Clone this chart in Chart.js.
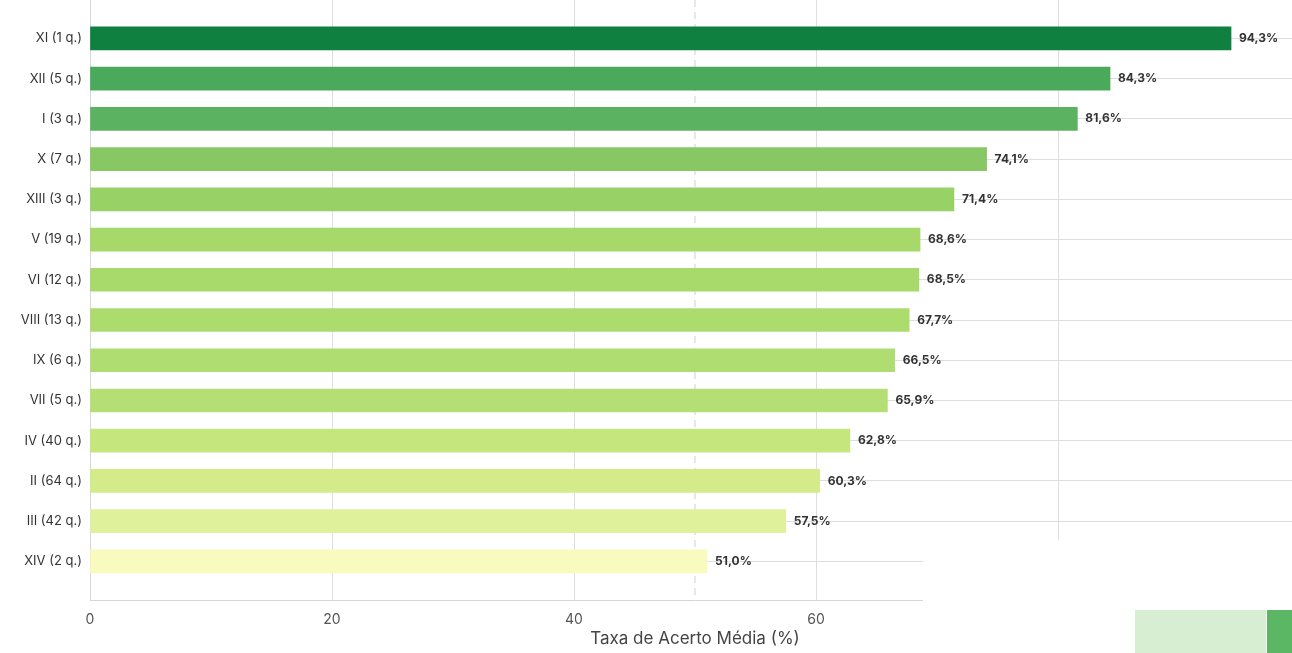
<!DOCTYPE html>
<html>
<head>
<meta charset="utf-8">
<script src="https://cdn.jsdelivr.net/npm/chart.js@4/dist/chart.umd.min.js"></script>
<style>
  html, body { margin: 0; padding: 0; background: #fff; overflow: hidden; }
  #chart { display: block; }
</style>
</head>
<body>
<canvas id="chart" width="1300" height="653"></canvas>
<script>
// categorias (de cima para baixo)
var categorias = ['XI (1 q.)', 'XII (5 q.)', 'I (3 q.)', 'X (7 q.)', 'XIII (3 q.)', 'V (19 q.)', 'VI (12 q.)',
  'VIII (13 q.)', 'IX (6 q.)', 'VII (5 q.)', 'IV (40 q.)', 'II (64 q.)', 'III (42 q.)', 'XIV (2 q.)']
var taxas = [94.3, 84.3, 81.6, 74.1, 71.4, 68.6, 68.5, 67.7, 66.5, 65.9, 62.8, 60.3, 57.5, 51.0]
var cores = ['#0f8040', '#4aa95a', '#5bb362', '#87c864', '#98d165', '#a6d86a', '#a8d96b',
  '#acdb6e', '#b0dd71', '#b5df75', '#c5e67d', '#d3ec89', '#e0f19b', '#f8fbbd']
var xTicks = [0, 20, 40, 60, 80, 100]
var linhaRef = 50

var pontos = taxas.map(function (v, i) { return { x: v, y: i } })

function semPadding(s) {
  s.paddingTop = 0; s.paddingBottom = 0; s.paddingLeft = 0; s.paddingRight = 0
}

// rótulos de valor + linha tracejada
var extras = {
  id: 'extras',
  beforeDatasetsDraw: function (chart) {
    var ctx = chart.ctx, a = chart.chartArea
    var x = chart.scales.x.getPixelForValue(linhaRef)
    ctx.save()
    ctx.strokeStyle = '#cfcfcf'
    ctx.lineWidth = 1
    ctx.setLineDash([7, 5])
    ctx.beginPath()
    ctx.moveTo(x, 0)
    ctx.lineTo(x, a.bottom)
    ctx.stroke()
    ctx.restore()
  },
  afterDatasetsDraw: function (chart) {
    var ctx = chart.ctx
    var meta = chart.getDatasetMeta(0)
    ctx.save()
    ctx.font = 'bold 12px Inter'
    ctx.fillStyle = '#333'
    ctx.textBaseline = 'middle'
    meta.data.forEach(function (bar, i) {
      ctx.fillText(taxas[i].toFixed(1).replace('.', ',') + '%', bar.x + 8, bar.y)
    })
    ctx.restore()
  },
  afterDraw: function (chart) {
    var ctx = chart.ctx
    ctx.save()
    // caixa branca que cobre o canto inferior direito
    ctx.fillStyle = '#fff'
    ctx.fillRect(923, 540, 400, 120)
    ctx.fillStyle = '#d8eed3'
    ctx.fillRect(1135, 610, 131, 50)
    ctx.fillStyle = '#5cb765'
    ctx.fillRect(1267, 610, 40, 50)
    ctx.restore()
  }
}

var config = {
  type: 'bar',
  data: {
    datasets: [{
      data: pontos,
      backgroundColor: cores,
      borderWidth: 0,
      barThickness: 23
    }]
  },
  options: {
    indexAxis: 'y',
    responsive: false,
    animation: false,
    layout: { padding: 0 },
    plugins: {
      legend: { display: false },
      tooltip: { enabled: false }
    },
    scales: {
      x: {
        type: 'linear',
        min: 0,
        max: 100,
        afterBuildTicks: function (s) { s.ticks = xTicks.map(function (v) { return { value: v } }) },
        afterFit: function (s) { s.height = 53; semPadding(s) },
        grid: { color: '#dedede', drawTicks: false },
        border: { color: '#d6d6d6' },
        ticks: {
          color: '#555', font: { family: 'Inter', size: 14 }, padding: 11, maxRotation: 0,
          callback: function (v) { return v >= 80 ? '' : v }
        },
        title: { display: true, text: 'Taxa de Acerto Média (%)', color: '#444', font: { family: 'Inter', size: 17 }, padding: { top: 0, bottom: 4 } }
      },
      y: {
        type: 'linear',
        reverse: true,
        offset: false,
        min: -0.955,
        max: 13.96,
        afterBuildTicks: function (s) { s.ticks = categorias.map(function (c, i) { return { value: i } }) },
        afterFit: function (s) { s.width = 90; semPadding(s) },
        grid: { color: '#dedede', drawTicks: false, offset: false },
        border: { color: '#d6d6d6' },
        ticks: {
          color: '#333',
          font: { family: 'Inter', size: 13 },
          padding: 8,
          callback: function (v) { return categorias[v] }
        }
      }
    }
  },
  plugins: [extras]
}

var grafico = new Chart(document.getElementById('chart').getContext('2d'), config)
</script>
</body>
</html>
